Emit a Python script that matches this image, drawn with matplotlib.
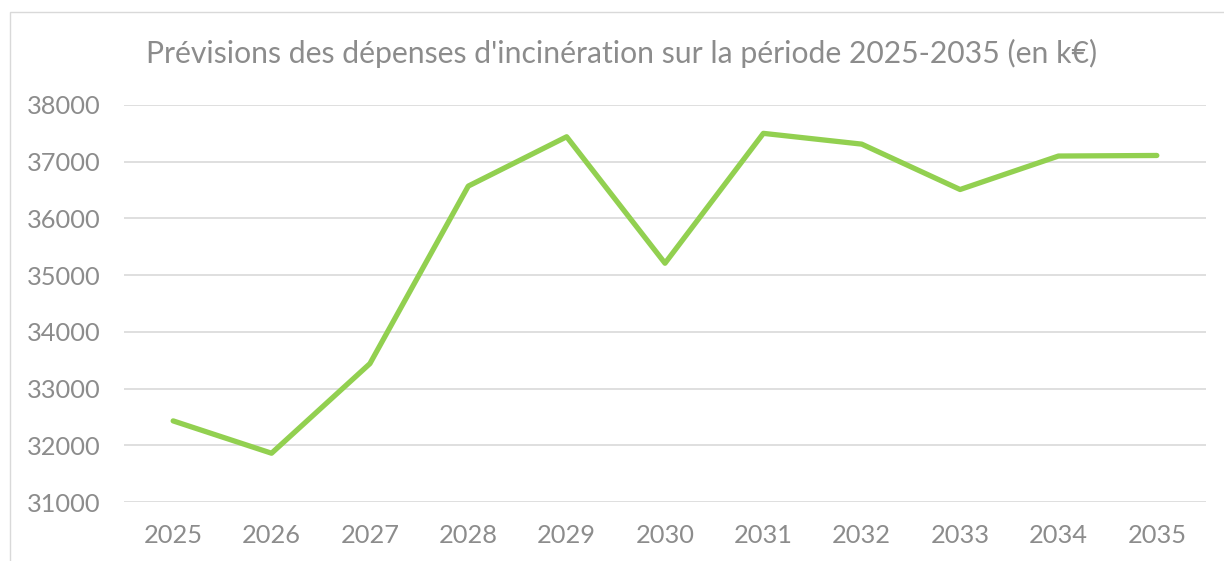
import matplotlib
matplotlib.use("Agg")
import matplotlib.pyplot as plt
from matplotlib.patches import Rectangle

# Prévisions des dépenses d'incinération (k€)
years = ["2025", "2026", "2027", "2028", "2029", "2030",
         "2031", "2032", "2033", "2034", "2035"]
depenses = [32430, 31860, 33440, 36570, 37440, 35210,
            37500, 37310, 36510, 37100, 37110]
y_ticks = [31000, 32000, 33000, 34000, 35000, 36000, 37000, 38000]

text_col = "#8c8c8c"
grid_col = "#d9d9d9"
line_col = "#92d050"

plt.rcParams['font.family'] = ['Lato', 'DejaVu Sans']

W, H = 1224, 561
fig = plt.figure(figsize=(W / 100, H / 100), dpi=100)

# chart frame (cropped on right and bottom)
fig.patches.append(Rectangle((10 / W, -0.1), 1.2, 1 - 12 / H + 0.1,
                             transform=fig.transFigure, fill=False,
                             edgecolor="#d9d9d9", linewidth=1))

ax = fig.add_axes([124 / W, 1 - 502 / H, (1206 - 124) / W, (502 - 105) / H])
x = range(len(years))
ax.plot(x, depenses, color=line_col, linewidth=3.8,
        solid_capstyle="round", solid_joinstyle="round", zorder=3)

ax.set_xlim(-0.5, len(years) - 0.5)
ax.set_ylim(y_ticks[0], y_ticks[-1])
ax.set_yticks(y_ticks)
ax.set_yticklabels([str(v) for v in y_ticks])
ax.set_xticks(list(x))
ax.set_xticklabels(years)
ax.grid(axis="y", color=grid_col, linewidth=1.2)
ax.set_axisbelow(True)
for s in ax.spines.values():
    s.set_visible(False)
ax.tick_params(length=0, labelsize=18.3, colors=text_col)
ax.tick_params(axis="y", pad=17)
ax.tick_params(axis="x", pad=16)

fig.text(622 / W, 1 - 53 / H,
         "Prévisions des dépenses d'incinération sur la période 2025-2035 (en k€)",
         ha="center", va="center", fontsize=21.7, color=text_col)

fig.savefig("out.png", dpi=100, facecolor="white")
